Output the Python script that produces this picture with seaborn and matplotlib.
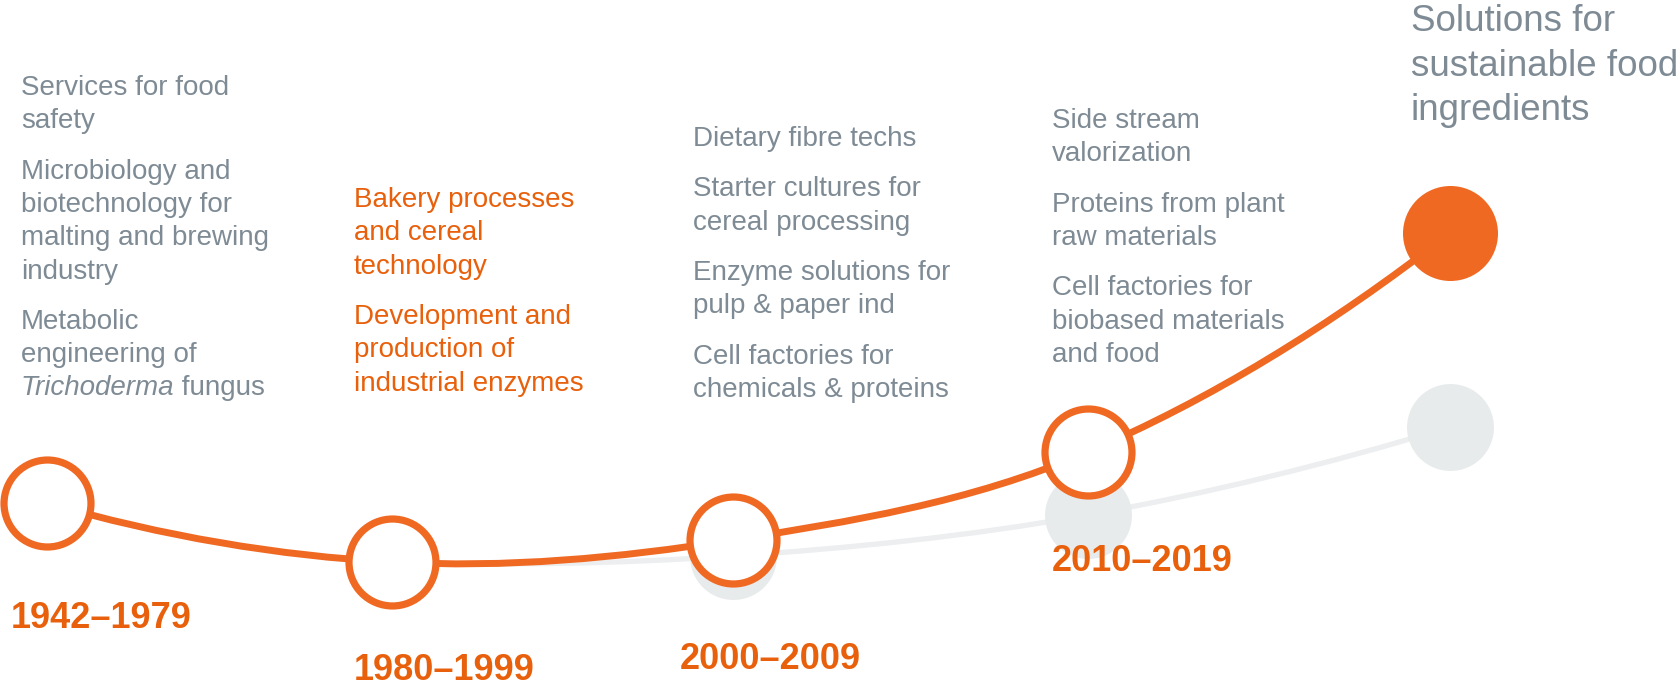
import matplotlib.pyplot as plt
import numpy as np
import seaborn as sns
from matplotlib.path import Path
from matplotlib.patches import PathPatch

# --- DATA (pixel space 1681 x 686) ---
eras = ["1942–1979", "1980–1999", "2000–2009", "2010–2019"]
era_label_x = [11, 354, 680, 1052]
era_label_y = [628, 680, 669, 571]

# milestones on the orange path (last one = future, filled)
milestone_x = [47, 392, 733, 1088, 1450]
milestone_y = [503, 562, 540, 452, 233]

# faint grey "alternative" path
grey_x = [392, 733, 1088, 1450]
grey_y = [562, 556, 515, 427]
shadow_x = [733, 1088, 1450]
shadow_y = [556, 515, 427]

# topics per era, paragraphs as lists of lines
topics_1942 = [["Services for food", "safety"],
               ["Microbiology and", "biotechnology for", "malting and brewing", "industry"],
               ["Metabolic", "engineering of", "Trichoderma| fungus"]]
topics_1980 = [["Bakery processes", "and cereal", "technology"],
               ["Development and", "production of", "industrial enzymes"]]
topics_2000 = [["Dietary fibre techs"],
               ["Starter cultures for", "cereal processing"],
               ["Enzyme solutions for", "pulp & paper ind"],
               ["Cell factories for", "chemicals & proteins"]]
topics_2010 = [["Side stream", "valorization"],
               ["Proteins from plant", "raw materials"],
               ["Cell factories for", "biobased materials", "and food"]]
future_lines = ["Solutions for", "sustainable food", "ingredients"]

topic_x = [21, 354, 693, 1052]
topic_first_baseline = [95, 207, 146, 128]
topic_colors = ["grey", "orange", "grey", "grey"]

ORANGE = "#F06923"
ORANGE_TXT = "#E8600C"
GREY_TXT = "#7E8B95"
GREY_DOT = "#E8EBEC"
GREY_LINE = "#ECEEEF"


def smooth_path(xs, ys):
    # catmull-rom through the milestones, drawn as cubic beziers
    P = np.column_stack([xs, ys]).astype(float)
    first = 3 * P[0] - 3 * P[1] + P[2]
    last = 3 * P[-1] - 3 * P[-2] + P[-3]
    Q = np.vstack([first, P, last])
    verts = [Q[1]]
    codes = [Path.MOVETO]
    for i in range(1, len(Q) - 2):
        p0, p1, p2, p3 = Q[i - 1], Q[i], Q[i + 1], Q[i + 2]
        verts += [p1 + (p2 - p0) / 6, p2 - (p3 - p1) / 6, p2]
        codes += [Path.CURVE4] * 3
    return Path(verts, codes)


sns.set_theme(style="white")
plt.rcParams["font.family"] = ["Liberation Sans", "DejaVu Sans"]

fig = plt.figure(figsize=(16.81, 6.86), dpi=100)
ax = fig.add_axes([0, 0, 1, 1])
ax.set_xlim(0, 1681)
ax.set_ylim(686, 0)
ax.axis("off")

# grey background path
ax.add_patch(PathPatch(smooth_path(grey_x, grey_y), fill=False,
                       edgecolor=GREY_LINE, lw=3.8, zorder=1, capstyle="round"))
sns.scatterplot(x=shadow_x, y=shadow_y, s=3920, color=GREY_DOT, linewidth=0,
                ax=ax, zorder=2, legend=False)

# orange path
ax.add_patch(PathPatch(smooth_path(milestone_x, milestone_y), fill=False,
                       edgecolor=ORANGE, lw=5.0, zorder=3, capstyle="round"))
sns.scatterplot(x=milestone_x[:-1], y=milestone_y[:-1], s=3920, color="white",
                edgecolor=ORANGE, linewidth=5.2, ax=ax, zorder=4, legend=False)
sns.scatterplot(x=milestone_x[-1:], y=milestone_y[-1:], s=4680, color=ORANGE,
                linewidth=0, ax=ax, zorder=4, legend=False)

# era labels
for lab, x, y in zip(eras, era_label_x, era_label_y):
    ax.text(x, y, lab, fontsize=26, fontweight="bold", color=ORANGE_TXT,
            va="baseline", ha="left", zorder=5)

# topic text blocks
line_step = 33.3
para_gap = 17
for paras, x, y0, c in zip([topics_1942, topics_1980, topics_2000, topics_2010],
                           topic_x, topic_first_baseline, topic_colors):
    col = ORANGE_TXT if c == "orange" else GREY_TXT
    y = y0
    for p in paras:
        for line in p:
            if "|" in line:
                ital, rest = line.split("|")
                t = ax.text(x, y, ital, fontsize=20, style="italic", color=col,
                            va="baseline", ha="left", zorder=5)
                ax.annotate(rest, xy=(1, 0), xycoords=t, fontsize=20, color=col,
                            va="bottom", ha="left", zorder=5)
            else:
                ax.text(x, y, line, fontsize=20, color=col, va="baseline",
                        ha="left", zorder=5)
            y += line_step
        y += para_gap

# future
for i, line in enumerate(future_lines):
    ax.text(1411, 31 + i * 44.5, line, fontsize=26.5, color=GREY_TXT,
            va="baseline", ha="left", zorder=5)

fig.savefig("out.png", dpi=100)
